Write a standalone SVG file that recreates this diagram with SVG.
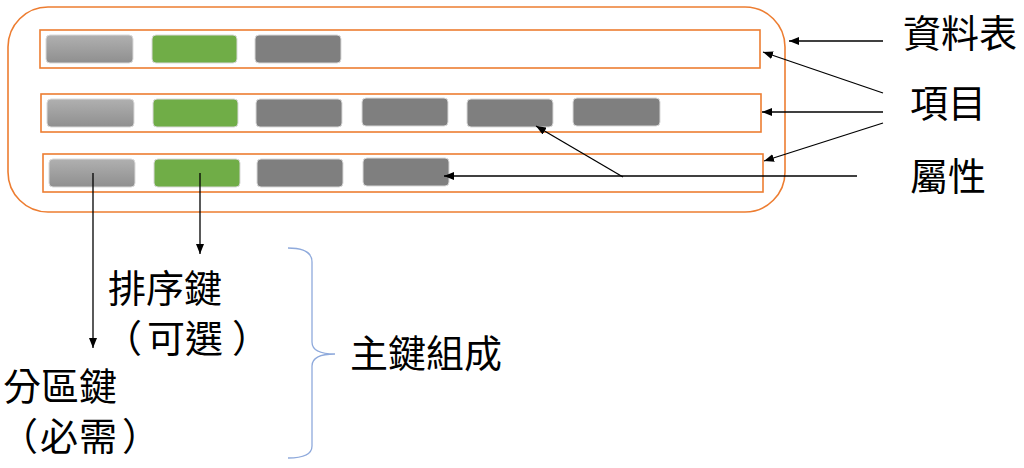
<svg xmlns="http://www.w3.org/2000/svg" width="1024" height="468" viewBox="0 0 1024 468">
<defs>
<linearGradient id="lg" x1="0" y1="0" x2="0" y2="1">
<stop offset="0" stop-color="#b0b0b0"/>
<stop offset="1" stop-color="#8f8f8f"/>
</linearGradient>
<marker id="ah" markerWidth="10" markerHeight="8" refX="10" refY="4" orient="auto" markerUnits="userSpaceOnUse">
<path d="M0,0 L10,4 L0,8 Z" fill="#000"/>
</marker>
</defs>
<style>
.frame{fill:none;stroke:#ED7D31;stroke-width:1.6}
.p{stroke:#d9d9d9;stroke-width:1}
.l{fill:url(#lg)}
.g{fill:#70AD47}
.d{fill:#7F7F7F}
.c{stroke:#000;stroke-width:1.3;fill:none;marker-end:url(#ah)}
.t{font-family:"Noto Sans CJK TC","Noto Sans CJK SC",sans-serif;font-size:38px;fill:#000}
</style>
<g id="table">
<rect class="frame" x="8" y="7" width="777" height="205" rx="40"/>
</g>
<g id="item1">
<rect class="frame" x="40" y="30" width="720" height="38"/>
<rect class="p l" x="46" y="35" width="87" height="28" rx="4"/>
<rect class="p g" x="152" y="35" width="85" height="28" rx="4"/>
<rect class="p d" x="255" y="35" width="86" height="28" rx="4"/>
</g>
<g id="item2">
<rect class="frame" x="41" y="94" width="720" height="38"/>
<rect class="p l" x="47" y="99" width="87" height="28" rx="4"/>
<rect class="p g" x="153" y="99" width="85" height="28" rx="4"/>
<rect class="p d" x="256" y="99" width="86" height="28" rx="4"/>
<rect class="p d" x="362" y="98" width="86" height="28" rx="4"/>
<rect class="p d" x="467" y="99" width="86" height="28" rx="4"/>
<rect class="p d" x="573" y="98" width="87" height="28" rx="4"/>
</g>
<g id="item3">
<rect class="frame" x="43" y="154" width="720" height="38"/>
<rect class="p l" x="49" y="159" width="86" height="28" rx="4"/>
<rect class="p g" x="154" y="159" width="86" height="28" rx="4"/>
<rect class="p d" x="257" y="159" width="86" height="28" rx="4"/>
<rect class="p d" x="363" y="158" width="86" height="28" rx="4"/>
</g>
<g id="connectors">
<line class="c" x1="883" y1="41" x2="789" y2="41"/>
<line class="c" x1="883" y1="93" x2="763" y2="52"/>
<line class="c" x1="883" y1="112" x2="762" y2="112"/>
<line class="c" x1="883" y1="123" x2="764" y2="161"/>
<line class="c" x1="857" y1="176" x2="444" y2="176"/>
<line class="c" x1="623" y1="177" x2="536" y2="126"/>
<line class="c" x1="93" y1="173" x2="93" y2="348"/>
<line class="c" x1="200" y1="173" x2="200" y2="254"/>
<path d="M288,248 Q312,248 312,262 L312,342 Q312,354 335,354 Q312,354 312,366 L312,446 Q312,458 288,458" fill="none" stroke="#8FAADC" stroke-width="1.3"/>
</g>
<g id="labels">
<text class="t" x="903" y="47">資料表</text>
<text class="t" x="910" y="117">項目</text>
<text class="t" x="910" y="190">屬性</text>
<text class="t" x="108" y="302">排序鍵</text>
<text class="t" y="352"><tspan x="104">（</tspan><tspan x="147">可</tspan><tspan x="185">選</tspan><tspan x="232">）</tspan></text>
<text class="t" x="3" y="400">分區鍵</text>
<text class="t" y="450"><tspan x="0">（</tspan><tspan x="40">必</tspan><tspan x="79">需</tspan><tspan x="122">）</tspan></text>
<text class="t" x="350" y="367">主鍵組成</text>
</g>
</svg>
